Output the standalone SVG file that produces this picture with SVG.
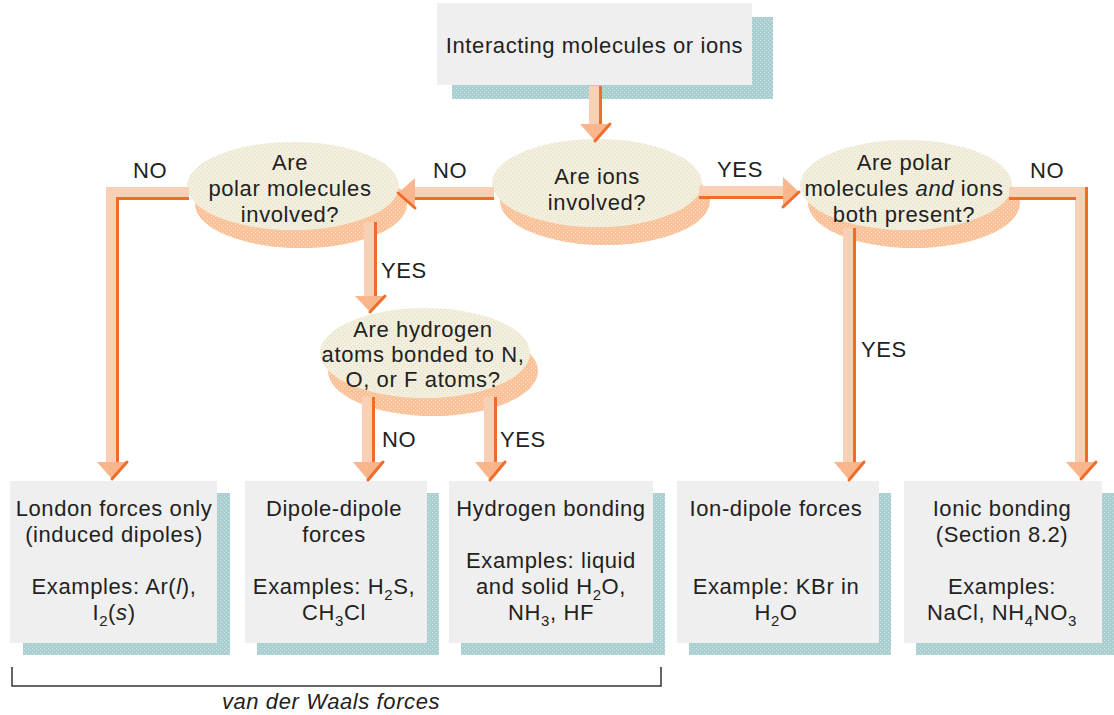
<svg xmlns="http://www.w3.org/2000/svg" width="1114" height="715" viewBox="0 0 1114 715">
<defs>
<pattern id="teal" width="4" height="4" patternUnits="userSpaceOnUse"><rect width="4" height="4" fill="#a9cfd0"/><rect x="0" y="0" width="1" height="1" fill="#d2e6e6"/><rect x="2" y="2" width="1" height="1" fill="#d2e6e6"/></pattern>
<pattern id="beige" width="4" height="4" patternUnits="userSpaceOnUse"><rect width="4" height="4" fill="#f2f0dd"/><rect x="1" y="1" width="1" height="1" fill="#ebd6cf"/><rect x="3" y="3" width="1" height="1" fill="#dedfcb"/></pattern>
<pattern id="peach" width="4" height="4" patternUnits="userSpaceOnUse"><rect width="4" height="4" fill="#f9c29c"/><rect x="1" y="2" width="1" height="1" fill="#fde4b4"/><rect x="3" y="0" width="1" height="1" fill="#fde4b4"/></pattern>
<style>
text{font-family:"Liberation Sans",Arial,sans-serif;font-size:22px;fill:#222;letter-spacing:0.6px;text-anchor:middle}
.l{text-anchor:start}
.i{font-style:italic}
.sub{font-size:15px}
.box{fill:#efefef}
.bsh{fill:url(#teal)}
.ell{fill:url(#beige)}
.esh{fill:url(#peach)}
.band{fill:none;stroke:#f9d0b6;stroke-width:12;stroke-linejoin:miter}
.edge{fill:none;stroke:#ee6d2b;stroke-width:3}
.head{fill:#f9b58b}
.hedge{fill:none;stroke:#ee6d2b;stroke-width:3;stroke-linecap:round}
</style>
</defs>
<rect width="1114" height="715" fill="#ffffff"/>

<g id="start">
<rect class="bsh" x="452" y="17" width="321" height="82"/>
<rect class="box" x="437" y="3" width="315" height="82"/>
<text x="594.5" y="53">Interacting molecules or ions</text>
</g>

<g id="q-ions">
<ellipse class="esh" cx="605" cy="201" rx="105" ry="44"/>
<ellipse class="ell" cx="597" cy="183" rx="105" ry="44"/>
<text x="597" y="184">Are ions</text>
<text x="597" y="210">involved?</text>
</g>

<g id="q-polar">
<ellipse class="esh" cx="301" cy="204" rx="106" ry="44"/>
<ellipse class="ell" cx="293" cy="186" rx="106" ry="44"/>
<text x="290" y="170">Are</text>
<text x="290" y="196">polar molecules</text>
<text x="290" y="222">involved?</text>
</g>

<g id="q-polar-ions">
<ellipse class="esh" cx="914" cy="203" rx="106" ry="45"/>
<ellipse class="ell" cx="906" cy="185" rx="106" ry="45"/>
<text x="904" y="170">Are polar</text>
<text x="904" y="196">molecules <tspan class="i">and</tspan> ions</text>
<text x="904" y="222">both present?</text>
</g>

<g id="q-hydrogen">
<ellipse class="esh" cx="433" cy="371" rx="105" ry="45"/>
<ellipse class="ell" cx="425" cy="353" rx="105" ry="45"/>
<text x="423" y="337">Are hydrogen</text>
<text x="423" y="362">atoms bonded to N,</text>
<text x="423" y="387">O, or F atoms?</text>
</g>

<g id="london">
<rect class="bsh" x="23" y="493" width="207" height="162"/>
<rect class="box" x="10" y="481" width="207" height="162"/>
<text x="114" y="516">London forces only</text>
<text x="114" y="542">(induced dipoles)</text>
<text x="114" y="594">Examples: Ar(<tspan class="i">l</tspan>),</text>
<text x="114" y="620">I<tspan class="sub" dy="6">2</tspan><tspan dy="-6">(</tspan><tspan class="i">s</tspan>)</text>
</g>

<g id="dipole">
<rect class="bsh" x="257" y="493" width="182" height="162"/>
<rect class="box" x="245" y="481" width="182" height="162"/>
<text x="334" y="516">Dipole-dipole</text>
<text x="334" y="542">forces</text>
<text x="334" y="594">Examples: H<tspan class="sub" dy="6">2</tspan><tspan dy="-6">S,</tspan></text>
<text x="334" y="620">CH<tspan class="sub" dy="6">3</tspan><tspan dy="-6">Cl</tspan></text>
</g>

<g id="hbond">
<rect class="bsh" x="461" y="493" width="204" height="162"/>
<rect class="box" x="449" y="481" width="204" height="162"/>
<text x="551" y="516">Hydrogen bonding</text>
<text x="551" y="568">Examples: liquid</text>
<text x="551" y="594">and solid H<tspan class="sub" dy="6">2</tspan><tspan dy="-6">O,</tspan></text>
<text x="551" y="620">NH<tspan class="sub" dy="6">3</tspan><tspan dy="-6">, HF</tspan></text>
</g>

<g id="iondipole">
<rect class="bsh" x="689" y="493" width="202" height="162"/>
<rect class="box" x="677" y="481" width="202" height="162"/>
<text x="776" y="516">Ion-dipole forces</text>
<text x="776" y="594">Example: KBr in</text>
<text x="776" y="620">H<tspan class="sub" dy="6">2</tspan><tspan dy="-6">O</tspan></text>
</g>

<g id="ionic">
<rect class="bsh" x="916" y="493" width="200" height="162"/>
<rect class="box" x="904" y="481" width="198" height="162"/>
<text x="1002" y="516">Ionic bonding</text>
<text x="1002" y="542">(Section 8.2)</text>
<text x="1002" y="594">Examples:</text>
<text x="1002" y="620">NaCl, NH<tspan class="sub" dy="6">4</tspan><tspan dy="-6">NO</tspan><tspan class="sub" dy="6">3</tspan></text>
</g>

<g id="connectors">
<path class="band" d="M595,86 V125"/><path class="edge" d="M600.5,86 V125"/>
<polygon class="head" points="580,124 610,124 595,141"/><path class="hedge" d="M610,124 L595,141"/>

<path class="band" d="M494,193 H414"/><path class="edge" d="M494,198.5 H414"/>
<polygon class="head" points="415,178 415,208 398,193"/><path class="hedge" d="M415,208 L398,193"/>

<path class="band" d="M699,192 H784"/><path class="edge" d="M699,197.5 H784"/>
<polygon class="head" points="783,177 783,207 799,192"/><path class="hedge" d="M783,207 L799,192"/>

<path class="band" d="M189,193 H112 V463"/><path class="edge" d="M189,198.5 H117.5 V463"/>
<polygon class="head" points="97,462 127,462 112,479"/><path class="hedge" d="M127,462 L112,479"/>

<path class="band" d="M1009,193 H1081 V463"/><path class="edge" d="M1009,198.5 H1076"/><path class="edge" d="M1086.5,187 V463"/>
<polygon class="head" points="1066,462 1096,462 1081,479"/><path class="hedge" d="M1096,462 L1081,479"/>

<path class="band" d="M370,222 V297"/><path class="edge" d="M375.5,222 V297"/>
<polygon class="head" points="355,296 385,296 370,312"/><path class="hedge" d="M385,296 L370,312"/>

<path class="band" d="M368,397 V463"/><path class="edge" d="M373.5,397 V463"/>
<polygon class="head" points="353,462 383,462 368,480"/><path class="hedge" d="M383,462 L368,480"/>

<path class="band" d="M490,397 V463"/><path class="edge" d="M495.5,397 V463"/>
<polygon class="head" points="475,462 505,462 490,480"/><path class="hedge" d="M505,462 L490,480"/>

<path class="band" d="M849,228 V463"/><path class="edge" d="M854.5,228 V463"/>
<polygon class="head" points="834,462 864,462 849,480"/><path class="hedge" d="M864,462 L849,480"/>

<text x="150" y="178">NO</text>
<text x="450" y="178">NO</text>
<text x="740" y="177">YES</text>
<text x="1047" y="178">NO</text>
<text class="l" x="381" y="278">YES</text>
<text class="l" x="861" y="357">YES</text>
<text class="l" x="382" y="447">NO</text>
<text class="l" x="500" y="447">YES</text>
</g>

<g id="vdw-bracket">
<path d="M12,667 V686 H661 V667" fill="none" stroke="#333" stroke-width="1.5"/>
<text class="i" x="331" y="709">van der Waals forces</text>
</g>
</svg>
